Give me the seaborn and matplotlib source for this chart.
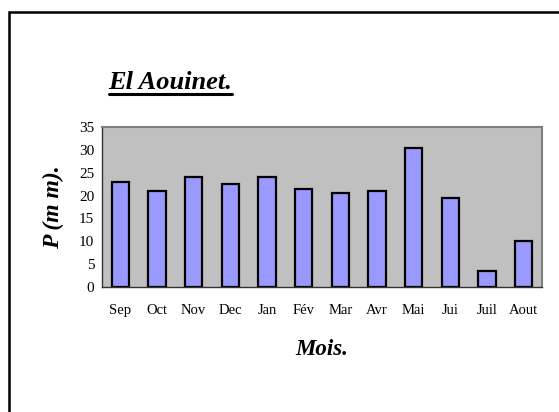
import numpy as np
import pandas as pd
import matplotlib
matplotlib.use("Agg")
import matplotlib.pyplot as plt
from matplotlib.patches import Rectangle
from matplotlib.lines import Line2D
import seaborn as sns

# monthly rainfall, El Aouinet
mois = ['Sep', 'Oct', 'Nov', 'Dec', 'Jan', 'Fév', 'Mar', 'Avr', 'Mai', 'Jui', 'Juil', 'Aout']
pluie = [23, 21, 24, 22.5, 24, 21.5, 20.5, 21, 30.5, 19.5, 3.5, 10]
y_ticks = [0, 5, 10, 15, 20, 25, 30, 35]

df = pd.DataFrame({'Mois': mois, 'P': pluie})

sns.set_style("white")
plt.rcParams['font.family'] = ['Liberation Serif', 'DejaVu Serif']
plt.rcParams['text.color'] = 'black'
plt.rcParams['axes.labelcolor'] = 'black'
plt.rcParams['xtick.color'] = 'black'
plt.rcParams['ytick.color'] = 'black'

fig = plt.figure(figsize=(5.59, 4.12), dpi=100)
ax = fig.add_axes([102 / 559, 1 - 287 / 412, 440 / 559, 160 / 412])
ax.set_facecolor('#C0C0C0')

sns.barplot(data=df, x='Mois', y='P', ax=ax, color='#9999FF', saturation=1,
            width=0.48, edgecolor='black', linewidth=1.6)

ax.set_xlim(-0.5, len(mois) - 0.5)
ax.set_ylim(0, 35)
ax.set_yticks(y_ticks)
ax.set_yticklabels([str(v) for v in y_ticks], fontsize=11)
ax.set_xticks(range(len(mois)))
ax.set_xticklabels(mois, fontsize=10.5)
ax.set_xticks(np.arange(-0.5, len(mois)), minor=True)
ax.tick_params(axis='x', which='major', length=0, pad=12)
ax.tick_params(axis='x', which='minor', length=4, width=1, color='#333333', direction='out')
ax.tick_params(axis='y', which='major', length=3.5, width=1, color='#333333', direction='out', pad=2)

for side in ['left', 'bottom']:
    ax.spines[side].set_color('#333333')
    ax.spines[side].set_linewidth(1)
for side in ['top', 'right']:
    ax.spines[side].set_color('#808080')
    ax.spines[side].set_linewidth(1.5)

ax.set_xlabel('Mois.', fontsize=16.5, fontweight='bold', fontstyle='italic', labelpad=16)
ax.set_ylabel('P (m m).', fontsize=17, fontweight='bold', fontstyle='italic', labelpad=11)

title = fig.text(170.5 / 559, 1 - 89 / 412, 'El Aouinet.', fontsize=19, fontweight='bold',
                 fontstyle='italic', ha='center', va='baseline')

# outer frame
fig.add_artist(Rectangle((8.5 / 559, -0.2), 1.2, 1.2 - 11.5 / 412, transform=fig.transFigure,
                         fill=False, edgecolor='black', linewidth=1.8))

# underline the title
fig.canvas.draw()
bb = title.get_window_extent()
uy = 1 - 94 / 412
fig.add_artist(Line2D([bb.x0 / fig.bbox.width, bb.x1 / fig.bbox.width], [uy, uy],
                      transform=fig.transFigure, color='black', linewidth=2.2))

fig.savefig('out.png', dpi=100)
